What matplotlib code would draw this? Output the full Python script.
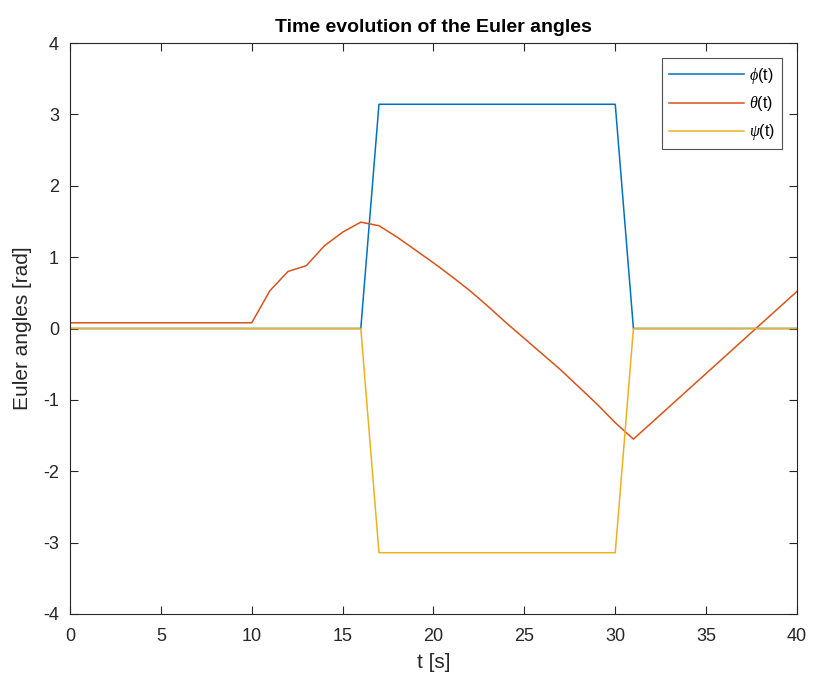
import numpy as np
import matplotlib
matplotlib.use("Agg")
import matplotlib.pyplot as plt

t = list(range(0, 41))
phi = [0.0]*17 + [3.1416]*14 + [0.0]*10
psi = [0.0]*17 + [-3.1416]*14 + [0.0]*10
theta = [0.08]*11 + [0.53, 0.80, 0.88, 1.16, 1.35, 1.49,
         1.44, 1.28, 1.10, 0.92, 0.73, 0.53, 0.31, 0.08, -0.14, -0.36,
         -0.58, -0.82, -1.06, -1.32, -1.55,
         -1.32, -1.09, -0.86, -0.63, -0.40, -0.17, 0.06, 0.29, 0.52]

plt.rcParams['font.family'] = ['Liberation Sans', 'DejaVu Sans']
plt.rcParams['axes.unicode_minus'] = False
plt.rcParams['mathtext.fontset'] = 'custom'
plt.rcParams['mathtext.it'] = 'Liberation Serif:italic'
plt.rcParams['mathtext.rm'] = 'Liberation Sans'

fig = plt.figure(figsize=(8.15, 6.91), dpi=100)
ax = fig.add_axes([70/815, 1-614/691, (797-70)/815, (614-43)/691])

ax.plot(t, phi, color='#0072BD', lw=1.1, label=r'$\phi$(t)')
ax.plot(t, theta, color='#D95319', lw=1.1, label=r'$\theta$(t)')
ax.plot(t, psi, color='#EDB120', lw=1.1, label=r'$\psi$(t)')

ax.set_xlim(0, 40)
ax.set_ylim(-4, 4)
ax.set_xticks(range(0, 41, 5))
ax.set_yticks(range(-4, 5))
ax.tick_params(direction='in', top=True, right=True, length=6, labelsize=13,
               color='#262626', labelcolor='#262626', width=0.8)
ax.tick_params(axis='x', pad=10)
ax.tick_params(axis='y', pad=8)
for s in ax.spines.values():
    s.set_color('#262626')
    s.set_linewidth(0.8)
ax.set_xlabel('t [s]', fontsize=15, color='#262626', labelpad=6)
ax.set_ylabel('Euler angles [rad]', fontsize=15, color='#262626', labelpad=8)
ax.set_title('Time evolution of the Euler angles', fontsize=14, fontweight='bold', pad=8)

leg = ax.legend(loc='upper right', bbox_to_anchor=(0.9795, 0.973), fontsize=11.5, frameon=True,
                fancybox=False, edgecolor='#262626', handlelength=4.7,
                borderpad=0.45, labelspacing=0.55, handletextpad=0.3, borderaxespad=0)
leg.get_frame().set_linewidth(0.8)

fig.savefig('out.png', dpi=100)
